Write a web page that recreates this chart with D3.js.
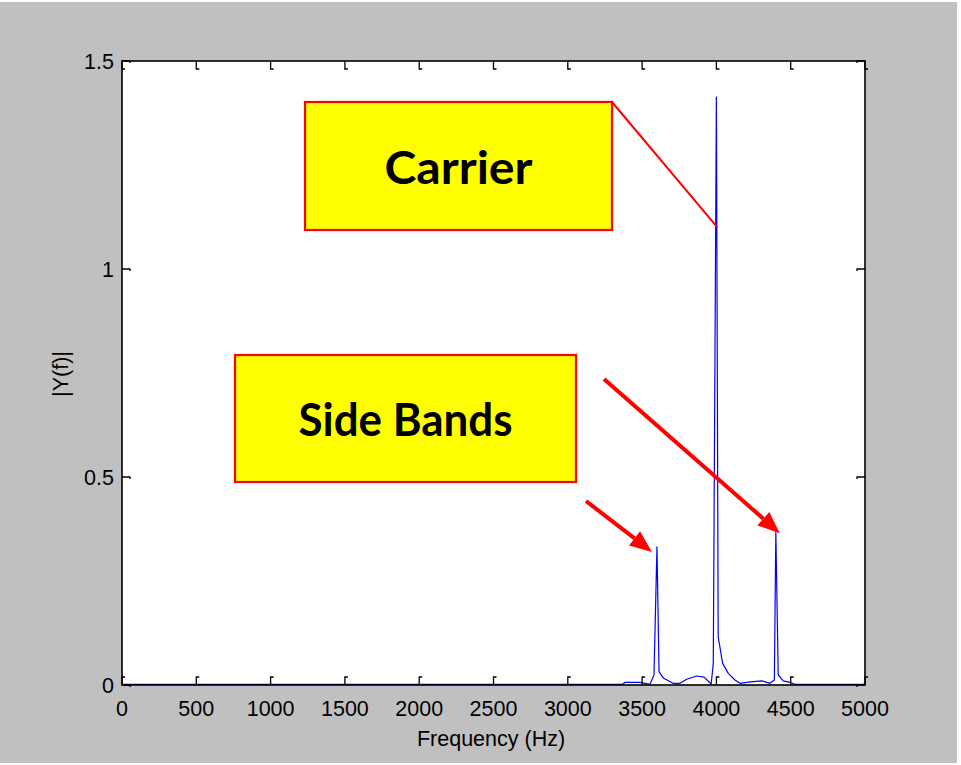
<!DOCTYPE html>
<html>
<head>
<meta charset="utf-8">
<script src="https://cdn.jsdelivr.net/npm/d3@7/dist/d3.min.js"></script>
<style>
  html, body { margin: 0; padding: 0; background: #ffffff; }
  svg { display: block; }
</style>
</head>
<body>
<svg id="chart" width="961" height="765"></svg>
<script>
// Magnitude spectrum of an AM signal: carrier at 4 kHz, side bands at 3.6 / 4.4 kHz
const freqHz = [0, 3370, 3385, 3486, 3553, 3580, 3600, 3614, 3642, 3708, 3755, 3800, 3867, 3917,
  3965, 3979, 4000, 4012, 4042, 4080, 4125, 4159, 4204, 4248, 4305, 4361, 4390, 4400, 4416,
  4450, 4495, 4529, 5000];
const magnitude = [0.0017, 0.0017, 0.0065, 0.0065, 0.0017, 0.024, 0.332, 0.032, 0.017, 0.004,
  0.004, 0.0137, 0.0216, 0.019, 0.0024, 0.052, 1.413, 0.116, 0.052, 0.028, 0.012, 0.004, 0.0065,
  0.008, 0.010, 0.004, 0.012, 0.368, 0.024, 0.010, 0.0065, 0.0017, 0.0017];

const xTicks = [0, 500, 1000, 1500, 2000, 2500, 3000, 3500, 4000, 4500, 5000];
const yTicks = [0, 0.5, 1, 1.5];
const xTickLabels = ["0", "500", "1000", "1500", "2000", "2500", "3000", "3500", "4000", "4500", "5000"];
const yTickLabels = ["0", "0.5", "1", "1.5"];

const carrierFreq = 4000;
const sideBandFreqs = [3600, 4400];

const svg = d3.select("#chart");
const plot = { left: 122, right: 865, top: 61, bottom: 685 };

// figure background
svg.append("rect").attr("x", 0).attr("y", 2).attr("width", 957).attr("height", 761)
  .attr("fill", "#c0c0c0");

const x = d3.scaleLinear().domain([0, 5000]).range([plot.left, plot.right]);
const y = d3.scaleLinear().domain([0, 1.5]).range([plot.bottom, plot.top]);

// axes area
svg.append("rect")
  .attr("x", plot.left).attr("y", plot.top)
  .attr("width", plot.right - plot.left).attr("height", plot.bottom - plot.top)
  .attr("fill", "#ffffff");

// spectrum trace
const pts = freqHz.map((f, i) => [f, magnitude[i]]);
svg.append("path")
  .datum(pts)
  .attr("fill", "none")
  .attr("stroke", "#0000ff")
  .attr("stroke-width", 1.2)
  .attr("stroke-linejoin", "round")
  .attr("d", d3.line().x(d => x(d[0])).y(d => y(d[1])));

// axes box
const axisColor = "#000";
svg.append("rect")
  .attr("x", plot.left).attr("y", plot.top)
  .attr("width", plot.right - plot.left).attr("height", plot.bottom - plot.top)
  .attr("fill", "none").attr("stroke", axisColor).attr("stroke-width", 1.6);

// inward ticks on all four sides
const tickLen = 8;
const ticks = svg.append("g").attr("stroke", axisColor).attr("stroke-width", 1.3).attr("fill", "none");
xTicks.forEach(t => {
  const px = x(t);
  ticks.append("path").attr("d", `M${px},${plot.bottom} V${plot.bottom - tickLen} h3`);
  ticks.append("path").attr("d", `M${px},${plot.top} V${plot.top + tickLen} h3`);
});
yTicks.forEach(t => {
  const py = y(t);
  ticks.append("path").attr("d", `M${plot.left},${py} H${plot.left + tickLen} v2`);
  ticks.append("path").attr("d", `M${plot.right},${py} H${plot.right - tickLen} v2`);
});

// tick labels
const tickFont = "'Liberation Sans', Arial, sans-serif";
const tickSize = 21.5;
svg.append("g").selectAll("text").data(xTicks).join("text")
  .attr("x", d => x(d)).attr("y", 716)
  .attr("text-anchor", "middle")
  .attr("font-family", tickFont).attr("font-size", tickSize).attr("fill", "#000")
  .text((d, i) => xTickLabels[i]);

svg.append("g").selectAll("text").data(yTicks).join("text")
  .attr("x", plot.left - 8).attr("y", d => y(d) + 8)
  .attr("text-anchor", "end")
  .attr("font-family", tickFont).attr("font-size", tickSize).attr("fill", "#000")
  .text((d, i) => yTickLabels[i]);

// axis titles
svg.append("text")
  .attr("x", 491).attr("y", 746)
  .attr("text-anchor", "middle")
  .attr("font-family", tickFont).attr("font-size", tickSize).attr("fill", "#000")
  .text("Frequency (Hz)");

svg.append("text")
  .attr("transform", `translate(68, 374) rotate(-90)`)
  .attr("text-anchor", "middle")
  .attr("font-family", tickFont).attr("font-size", tickSize).attr("fill", "#000")
  .text("|Y(f)|");

// annotations
const red = "#ff0000";
const labelFont = "Lato, 'Open Sans', sans-serif";

function callout(x0, y0, w, h, label, textW, baseline) {
  svg.append("rect")
    .attr("x", x0).attr("y", y0).attr("width", w).attr("height", h)
    .attr("fill", "#ffff00").attr("stroke", red).attr("stroke-width", 2.2);
  svg.append("text")
    .attr("x", x0 + w / 2).attr("y", baseline)
    .attr("text-anchor", "middle")
    .attr("font-family", labelFont).attr("font-weight", 700).attr("font-size", 45)
    .attr("textLength", textW).attr("lengthAdjust", "spacingAndGlyphs")
    .attr("fill", "#000")
    .text(label);
}

function arrow(x1, y1, x2, y2) {
  const ang = Math.atan2(y2 - y1, x2 - x1);
  const len = 22, half = 9;
  const bx = x2 - len * Math.cos(ang), by = y2 - len * Math.sin(ang);
  svg.append("line")
    .attr("x1", x1).attr("y1", y1).attr("x2", bx).attr("y2", by)
    .attr("stroke", red).attr("stroke-width", 4);
  const nx = -Math.sin(ang), ny = Math.cos(ang);
  svg.append("path")
    .attr("d", `M${x2},${y2} L${bx + nx * half},${by + ny * half} L${bx - nx * half},${by - ny * half} Z`)
    .attr("fill", red);
}

// carrier callout with leader to the carrier line
callout(305, 102, 307, 128, "Carrier", 148, 184);
svg.append("line")
  .attr("x1", 612).attr("y1", 102)
  .attr("x2", x(carrierFreq) + 1).attr("y2", y(1.1))
  .attr("stroke", red).attr("stroke-width", 2);

// side band callout with arrows to each side band
callout(235, 355, 341, 127, "Side Bands", 214, 436);
arrow(586, 501, x(sideBandFreqs[0]) - 5, y(0.32));
arrow(604, 379, x(sideBandFreqs[1]) + 4, y(0.365));
</script>
</body>
</html>
